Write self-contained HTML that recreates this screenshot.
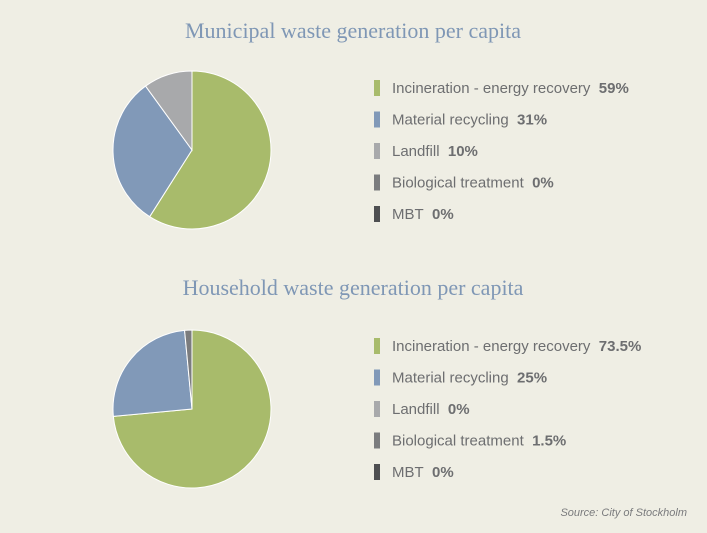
<!DOCTYPE html>
<html><head><meta charset="utf-8"><style>
body{margin:0;background:#efeee4;width:707px;height:533px;overflow:hidden;font-family:"Liberation Sans",sans-serif}
svg{display:block}
</style></head><body>
<svg id="c" width="707" height="533">
<rect width="707" height="533" fill="#efeee4"/>
<text x="353" y="38" text-anchor="middle" font-family="Liberation Serif,serif" font-size="22" fill="#7f97b5">Municipal waste generation per capita</text>
<text x="353" y="295" text-anchor="middle" font-family="Liberation Serif,serif" font-size="22" fill="#7f97b5">Household waste generation per capita</text>
<text x="687" y="516" text-anchor="end" font-size="11" font-style="italic" fill="#7a7b7d">Source: City of Stockholm</text>
</svg>
<script>
const categories=["Incineration - energy recovery","Material recycling","Landfill","Biological treatment","MBT"];
const municipalValues=[59,31,10,0,0];
const householdValues=[73.5,25,0,1.5,0];
const colors=["#a8bb6b","#8199b8","#a8a9ab","#7b7c7e","#4e4f51"];
const svg=document.getElementById('c');
const NS="http://www.w3.org/2000/svg";
function pie(vals,cx,cy,r,name){
  const tot=vals.reduce((a,b)=>a+b,0);let a=0;
  vals.forEach((v,i)=>{if(v<=0)return;
    const a0=a/tot*2*Math.PI,a1=(a+v)/tot*2*Math.PI;a+=v;
    const x0=cx+r*Math.sin(a0),y0=cy-r*Math.cos(a0),x1=cx+r*Math.sin(a1),y1=cy-r*Math.cos(a1);
    const p=document.createElementNS(NS,'path');
    p.setAttribute('d',`M${cx},${cy}L${x0},${y0}A${r},${r} 0 ${a1-a0>Math.PI?1:0} 1 ${x1},${y1}Z`);
    p.setAttribute('fill',colors[i]);p.setAttribute('stroke','#fff');p.setAttribute('stroke-width','1');
    
    
    svg.appendChild(p);});
}
function legend(vals,y0,name){
  vals.forEach((v,i)=>{const y=y0+i*31.5;
    const r=document.createElementNS(NS,'rect');
    r.setAttribute('x',374);r.setAttribute('y',y-8);r.setAttribute('width',6);r.setAttribute('height',16);r.setAttribute('fill',colors[i]);
    
    
    svg.appendChild(r);
    const t=document.createElementNS(NS,'text');
    t.setAttribute('x',392);t.setAttribute('y',y+5);t.setAttribute('font-size','15');t.setAttribute('fill','#6d6e70');
    t.innerHTML=categories[i]+'\u00a0\u00a0<tspan font-weight="bold">'+v+'%</tspan>';
    
    
    svg.appendChild(t);});
}
pie(municipalValues,192,150,79,'municipal');
pie(householdValues,192,409,79,'household');
legend(municipalValues,88,'municipal');
legend(householdValues,346,'household');
</script>
</body></html>
